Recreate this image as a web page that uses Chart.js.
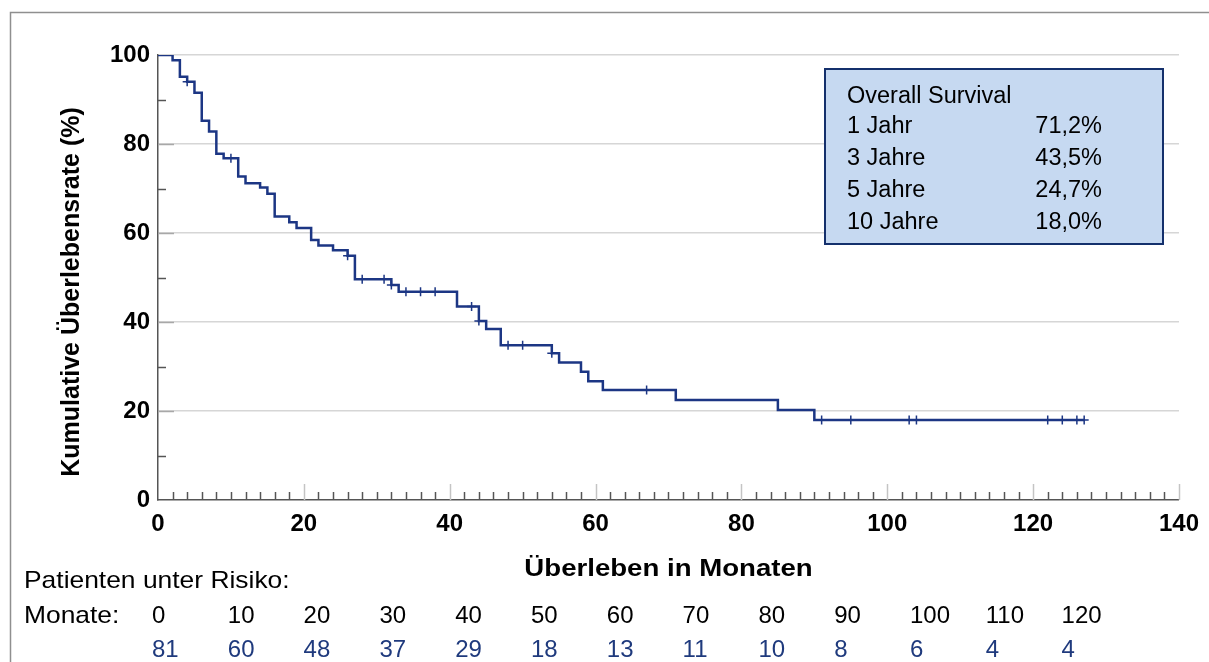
<!DOCTYPE html>
<html lang="de">
<head>
<meta charset="utf-8">
<title>Overall Survival</title>
<script src="https://cdn.jsdelivr.net/npm/chart.js@4.4.1/dist/chart.umd.min.js"></script>
<style>
  html, body { margin: 0; padding: 0; background: #fff; }
</style>
</head>
<body>
<canvas id="km" width="1209" height="662"></canvas>
<script>
// Kaplan-Meier steps: month of event, survival (%) after it
const stepMonths   = [0, 2, 3, 4, 5, 6, 7, 8, 9, 11, 12, 14, 15, 16, 18, 19, 21, 22, 24, 26, 27, 32, 33, 41, 44, 45, 47, 54, 55, 58, 59, 61, 71, 85, 90, 127];
const stepSurvival = [100, 98.8, 95.1, 94.0, 91.5, 85.2, 82.8, 77.8, 76.8, 72.7, 71.2, 70.2, 68.8, 63.7, 62.4, 61.1, 58.4, 57.2, 56.1, 54.9, 49.6, 48.3, 46.8, 43.5, 40.2, 38.4, 34.8, 33.0, 30.9, 28.8, 26.7, 24.7, 22.5, 20.2, 18.0, 18.0];
// censored patients (month)
const censorMonths = [4, 10, 26, 28, 31, 32, 34, 36, 38, 43, 44, 48, 50, 54, 67, 91, 95, 103, 104, 122, 124, 126, 127];

const xTicks = [0, 20, 40, 60, 80, 100, 120, 140];
const yTicks = [0, 20, 40, 60, 80, 100];

const summaryTitle = 'Overall Survival';
const summaryLabels = ['1 Jahr', '3 Jahre', '5 Jahre', '10 Jahre'];
const summaryValues = ['71,2%', '43,5%', '24,7%', '18,0%'];

const riskMonths = [0, 10, 20, 30, 40, 50, 60, 70, 80, 90, 100, 110, 120];
const riskCounts = [81, 60, 48, 37, 29, 18, 13, 11, 10, 8, 6, 4, 4];

const navy = '#1c3684';
const axisGray = '#555555';
const gridGray = '#d6d6d6';

// value of the step curve at month t (for placing censor marks)
function survivalAt(t) {
  let s = stepSurvival[0];
  for (let i = 0; i < stepMonths.length; i++) {
    if (stepMonths[i] <= t) s = stepSurvival[i];
  }
  return s;
}

function wideText(ctx, text, x, y, sx) {
  ctx.save();
  ctx.translate(x, y);
  ctx.scale(sx, 1);
  ctx.fillText(text, 0, 0);
  ctx.restore();
}

// inner tick marks, frame, titles, summary box, number-at-risk table
const decorPlugin = {
  id: 'decor',
  beforeDatasetsDraw(chart) {
    const { ctx, chartArea, scales } = chart;
    const x = scales.x, y = scales.y;
    ctx.save();
    // y axis: minor every 10, major every 20
    for (let v = 10; v < 100; v += 10) {
      const py = Math.round(y.getPixelForValue(v)) + 0.5;
      const major = v % 20 === 0;
      ctx.strokeStyle = major ? '#a8a8a8' : axisGray;
      ctx.lineWidth = 1.5;
      ctx.beginPath();
      ctx.moveTo(chartArea.left, py);
      ctx.lineTo(chartArea.left + (major ? 16 : 8), py);
      ctx.stroke();
    }
    // x axis: minor every 2 months, major every 20
    for (let v = 2; v <= 140; v += 2) {
      const px = Math.round(x.getPixelForValue(v)) + 0.5;
      const major = v % 20 === 0;
      ctx.strokeStyle = major ? '#c4c4c4' : axisGray;
      ctx.lineWidth = 1.5;
      ctx.beginPath();
      ctx.moveTo(px, chartArea.bottom);
      ctx.lineTo(px, chartArea.bottom - (major ? 16 : 8));
      ctx.stroke();
    }
    ctx.restore();
  },
  afterDraw(chart) {
    const { ctx, chartArea } = chart;
    ctx.save();

    // outer frame (top and left edge only)
    ctx.strokeStyle = '#8f8f8f';
    ctx.lineWidth = 1.5;
    ctx.beginPath();
    ctx.moveTo(10.5, 662);
    ctx.lineTo(10.5, 12.5);
    ctx.lineTo(1209, 12.5);
    ctx.stroke();

    // axis titles
    ctx.fillStyle = '#000';
    ctx.textAlign = 'center';
    ctx.textBaseline = 'middle';
    ctx.font = 'bold 25px "Liberation Sans"';
    ctx.save();
    ctx.translate(72.5, 292);
    ctx.rotate(-Math.PI / 2);
    ctx.fillText('Kumulative Überlebensrate (%)', 0, 0);
    ctx.restore();
    ctx.font = 'bold 23px "Liberation Sans"';
    wideText(ctx, 'Überleben in Monaten', (chartArea.left + chartArea.right) / 2, 570, 1.2);

    // summary box
    ctx.fillStyle = '#c6d9f1';
    ctx.fillRect(825, 69, 338, 175);
    ctx.strokeStyle = '#14306c';
    ctx.lineWidth = 2;
    ctx.strokeRect(825, 69, 338, 175);
    ctx.fillStyle = '#000';
    ctx.font = '23.5px "Liberation Sans"';
    ctx.textAlign = 'left';
    ctx.fillText(summaryTitle, 847, 97);
    summaryLabels.forEach((lab, i) => {
      const ty = 127 + i * 31.7;
      ctx.textAlign = 'left';
      ctx.fillText(lab, 847, ty);
      ctx.textAlign = 'right';
      ctx.fillText(summaryValues[i], 1102, ty);
    });

    // number at risk
    ctx.textAlign = 'left';
    ctx.font = '24px "Liberation Sans"';
    wideText(ctx, 'Patienten unter Risiko:', 24, 581, 1.1);
    wideText(ctx, 'Monate:', 24, 616, 1.1);
    riskMonths.forEach((m, i) => {
      const cx = 152 + i * 75.8;
      ctx.fillStyle = '#000';
      ctx.fillText(String(m), cx, 616);
      ctx.fillStyle = '#1f3a7d';
      ctx.fillText(String(riskCounts[i]), cx, 650);
    });

    ctx.restore();
  }
};

const tickFont = { family: 'Liberation Sans', size: 24, weight: 'bold' };

new Chart(document.getElementById('km'), {
  type: 'line',
  data: {
    datasets: [
      {
        label: 'Überleben',
        data: stepMonths.map((m, i) => ({ x: m, y: stepSurvival[i] })),
        stepped: 'before',
        borderColor: navy,
        borderWidth: 2.5,
        pointRadius: 0,
        fill: false
      },
      {
        label: 'zensiert',
        data: censorMonths.map(m => ({ x: m, y: survivalAt(m) })),
        showLine: false,
        pointStyle: 'cross',
        pointRadius: 4.5,
        borderColor: navy,
        borderWidth: 1.5
      }
    ]
  },
  options: {
    responsive: false,
    animation: false,
    layout: { padding: { top: 55, right: 27, bottom: 0, left: 0 } },
    plugins: {
      legend: { display: false },
      tooltip: { enabled: false }
    },
    scales: {
      x: {
        type: 'linear',
        min: 0,
        max: 140,
        afterBuildTicks: s => { s.ticks = xTicks.map(v => ({ value: v })); },
        afterFit: s => { s.height = 162; },
        grid: { display: false, drawTicks: false },
        border: { color: axisGray, width: 1.5 },
        ticks: { color: '#000', font: tickFont, padding: 10, maxRotation: 0, autoSkip: false }
      },
      y: {
        type: 'linear',
        min: 0,
        max: 100,
        afterBuildTicks: s => { s.ticks = yTicks.map(v => ({ value: v })); },
        afterFit: s => { s.width = 158; },
        grid: {
          color: c => (c.tick && c.tick.value === 0 ? 'rgba(0,0,0,0)' : gridGray),
          lineWidth: 1.5,
          drawTicks: false
        },
        border: { color: axisGray, width: 1.5 },
        ticks: { color: '#000', font: tickFont, padding: 8 }
      }
    }
  },
  plugins: [decorPlugin]
});
</script>
</body>
</html>
